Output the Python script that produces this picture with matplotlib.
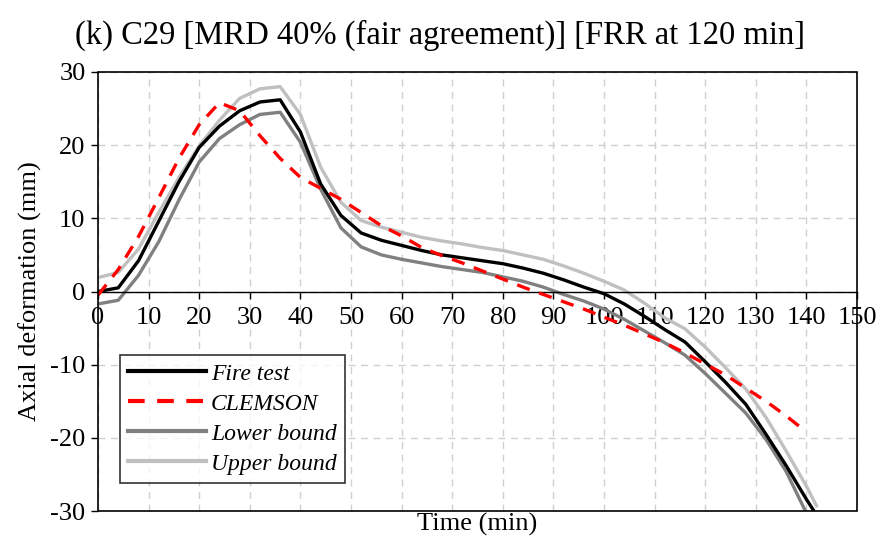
import matplotlib
matplotlib.use("Agg")
import matplotlib.pyplot as plt
from matplotlib.patches import Rectangle

# ---- data ----
t_fire = [0, 4, 8, 12, 16, 20, 24, 28, 32, 36, 40, 44, 48, 52, 56, 60, 64, 68, 72, 76, 80,
          84, 88, 92, 96, 100, 104, 108, 112, 116, 120, 124, 128, 132, 136, 140, 141.5]
fire = [0, 0.5, 4.2, 9.6, 15.0, 19.7, 22.6, 24.7, 25.9, 26.2, 21.8, 14.7, 10.4, 8.0, 7.0,
        6.3, 5.6, 5.0, 4.6, 4.2, 3.8, 3.2, 2.5, 1.6, 0.6, -0.3, -1.7, -3.4, -5.2, -6.9,
        -9.6, -12.4, -15.4, -19.5, -23.8, -28.4, -30.0]

t_low = [0, 4, 8, 12, 16, 20, 24, 28, 32, 36, 40, 44, 48, 52, 56, 60, 64, 68, 72, 76, 80,
         84, 88, 92, 96, 100, 104, 108, 112, 116, 120, 124, 128, 132, 136, 139.8]
lower = [-1.7, -1.2, 2.2, 6.8, 12.5, 17.7, 20.9, 22.8, 24.2, 24.5, 20.4, 14.0, 8.7, 6.1,
         5.0, 4.4, 3.9, 3.4, 3.0, 2.6, 2.0, 1.4, 0.6, -0.4, -1.3, -2.4, -3.8, -5.4, -7.0,
         -8.7, -11.2, -13.9, -16.6, -20.2, -24.6, -30.0]

t_up = [0, 4, 8, 12, 16, 20, 24, 28, 32, 36, 40, 44, 48, 52, 56, 60, 64, 68, 72, 76, 80,
        84, 88, 92, 96, 100, 104, 108, 112, 116, 120, 124, 128, 132, 136, 140, 142]
upper = [1.9, 2.6, 5.8, 10.8, 15.6, 19.9, 23.4, 26.4, 27.7, 28.0, 24.2, 17.0, 12.2, 9.7,
         8.8, 8.1, 7.4, 6.9, 6.5, 6.0, 5.6, 5.0, 4.4, 3.5, 2.5, 1.4, 0.2, -1.6, -3.6, -5.1,
         -7.6, -10.4, -13.3, -17.2, -21.8, -26.6, -29.3]

t_clem = [0, 4, 8, 12, 16, 20, 24, 28, 32, 36, 40, 44, 48, 52, 56, 60, 64, 68, 72, 76, 80,
          84, 88, 92, 96, 100, 104, 108, 112, 116, 120, 124, 128, 132, 136, 140]
clemson = [-0.5, 3.0, 7.5, 12.8, 18.2, 22.8, 25.8, 24.7, 21.3, 18.2, 15.6, 14.1, 12.6,
           10.8, 9.0, 7.6, 6.0, 4.9, 3.9, 2.8, 1.7, 0.6, -0.4, -1.4, -2.4, -3.5, -4.6,
           -5.8, -7.0, -8.4, -9.9, -11.4, -13.2, -15.0, -17.0, -19.2]

xticks = [0, 10, 20, 30, 40, 50, 60, 70, 80, 90, 100, 110, 120, 130, 140, 150]
yticks = [-30, -20, -10, 0, 10, 20, 30]

title = "(k) C29 [MRD 40% (fair agreement)] [FRR at 120 min]"

plt.rcParams['font.family'] = ['Liberation Serif', 'DejaVu Serif']
plt.rcParams['axes.unicode_minus'] = False

fig = plt.figure(figsize=(8.76, 5.44), dpi=100)
ax = fig.add_axes([98/876, 1 - 511/544, (857 - 98)/876, (511 - 72)/544])

ax.plot(t_fire, fire, color='black', lw=2.4, label='Fire test', zorder=5)
ax.plot(t_clem, clemson, color='#ff0000', lw=2.4, ls=(0, (4, 3)), label='CLEMSON', zorder=6)
ax.plot(t_low, lower, color='#808080', lw=2.4, label='Lower bound', zorder=3)
ax.plot(t_up, upper, color='#c0c0c0', lw=2.4, label='Upper bound', zorder=2)

ax.set_xlim(0, 150)
ax.set_ylim(-30, 30)
ax.set_xticks(xticks)
ax.set_yticks(yticks)
ax.tick_params(axis='both', labelsize=19, direction='out', length=5, width=1, color='black')
ax.tick_params(axis='x', pad=6)
ax.tick_params(axis='y', pad=4)

ax.grid(True, color='#d0d0d0', ls=(0, (5, 4)), lw=1)
ax.set_axisbelow(True)

for s in ['top', 'right', 'left']:
    ax.spines[s].set_visible(False)
ax.spines['bottom'].set_position(('data', 0))
ax.spines['bottom'].set_linewidth(1)
ax.spines['bottom'].set_zorder(4)
ax.add_patch(Rectangle((0, 0), 1, 1, transform=ax.transAxes, fill=False,
                       edgecolor='black', lw=1.2, zorder=7, clip_on=False))

ax.set_ylabel('Axial deformation (mm)', fontsize=19, labelpad=6)
ax.set_xlabel('Time (min)', fontsize=19)
ax.xaxis.set_label_coords(0.5, -0.005)
ax.xaxis.label.set_va('top')

fig.text(440/876, 1 - 35/544, title, ha='center', va='center', fontsize=23.5)

leg = ax.legend(loc='lower left', bbox_to_anchor=(22/759, 28/439),
                prop={'style': 'italic', 'size': 17}, frameon=True, fancybox=False,
                handlelength=3.3, borderpad=0.35, labelspacing=0.36, handletextpad=0.2,
                borderaxespad=0)
leg.get_frame().set_edgecolor('black')
leg.get_frame().set_linewidth(1.2)
leg.set_zorder(10)
for h in leg.get_lines():
    h.set_linewidth(3)

fig.savefig('out.png', dpi=100)
